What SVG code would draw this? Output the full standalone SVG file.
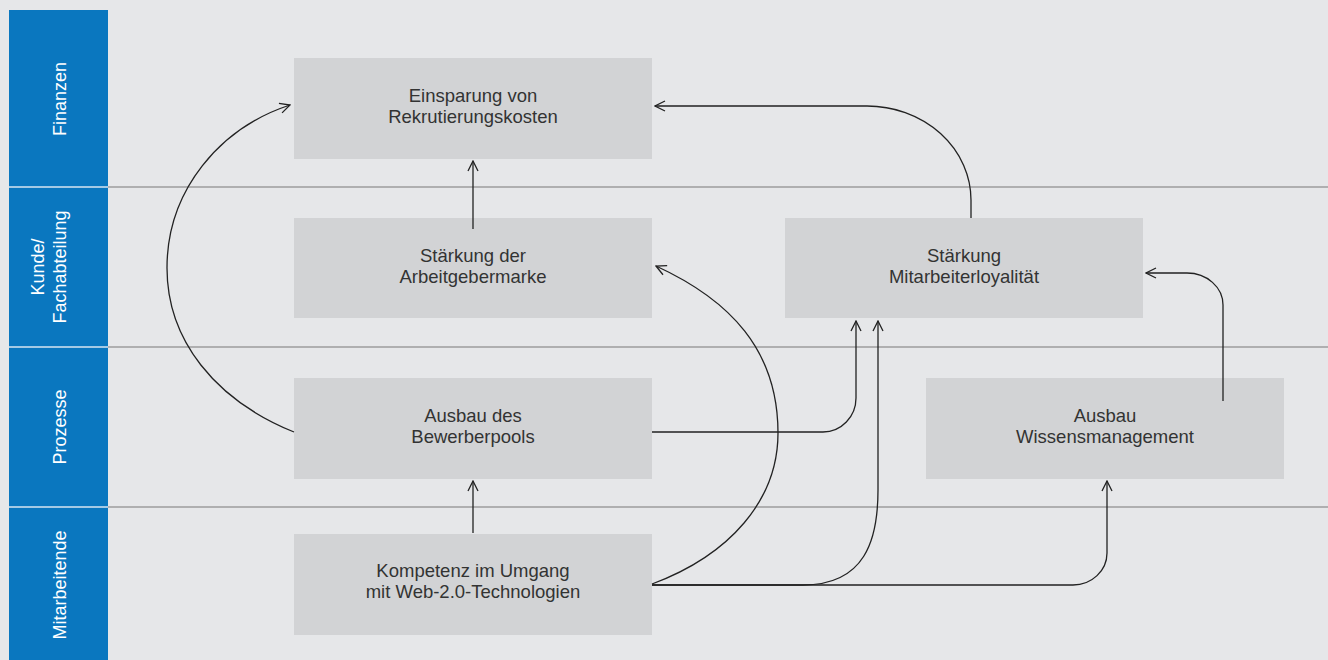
<svg xmlns="http://www.w3.org/2000/svg" width="1328" height="660" viewBox="0 0 1328 660">
<defs>
<style>
.box{fill:#d2d3d5}
.t{font-family:"Liberation Sans",Arial,sans-serif;font-size:18.5px;fill:#333;text-anchor:middle}
.lab{font-family:"Liberation Sans",Arial,sans-serif;font-size:18px;fill:#fff;text-anchor:middle}
.sep{stroke:#9c9c9c;stroke-width:1.5}
.sepb{stroke:#d8e6f2;stroke-width:1.5}
.c{fill:none;stroke:#222;stroke-width:1.3}
</style>
<marker id="ah" viewBox="0 0 12 12" refX="11" refY="6" markerWidth="12" markerHeight="12" markerUnits="userSpaceOnUse" orient="auto">
<path d="M1,1 L11,6 L1,11" fill="none" stroke="#222" stroke-width="1.3"/>
</marker>
</defs>
<rect x="0" y="0" width="1328" height="660" fill="#e6e7e9"/>
<g id="bands">
<rect x="9" y="10" width="99" height="650" fill="#0a77bf"/>
<line class="sepb" x1="9" y1="187" x2="108" y2="187"/>
<line class="sepb" x1="9" y1="347" x2="108" y2="347"/>
<line class="sepb" x1="9" y1="507" x2="108" y2="507"/>
<line class="sep" x1="108" y1="187" x2="1328" y2="187"/>
<line class="sep" x1="108" y1="347" x2="1328" y2="347"/>
<line class="sep" x1="108" y1="507" x2="1328" y2="507"/>
<text class="lab" transform="translate(66,99) rotate(-90)">Finanzen</text>
<text class="lab" transform="translate(44,267) rotate(-90)">Kunde/<tspan x="0" dy="22">Fachabteilung</tspan></text>
<text class="lab" transform="translate(66,427) rotate(-90)">Prozesse</text>
<text class="lab" transform="translate(66,585) rotate(-90)">Mitarbeitende</text>
</g>
<g id="n-einsparung">
<rect class="box" x="294" y="58" width="358" height="101"/>
<text class="t" x="473" y="102">Einsparung von<tspan x="473" dy="21">Rekrutierungskosten</tspan></text>
</g>
<g id="n-arbeitgebermarke">
<rect class="box" x="294" y="218" width="358" height="100"/>
<text class="t" x="473" y="262">Stärkung der<tspan x="473" dy="21">Arbeitgebermarke</tspan></text>
</g>
<g id="n-loyalitaet">
<rect class="box" x="785" y="218" width="358" height="100"/>
<text class="t" x="964" y="262">Stärkung<tspan x="964" dy="21">Mitarbeiterloyalität</tspan></text>
</g>
<g id="n-bewerberpools">
<rect class="box" x="294" y="378" width="358" height="101"/>
<text class="t" x="473" y="422">Ausbau des<tspan x="473" dy="21">Bewerberpools</tspan></text>
</g>
<g id="n-wissen">
<rect class="box" x="926" y="378" width="358" height="101"/>
<text class="t" x="1105" y="422">Ausbau<tspan x="1105" dy="21">Wissensmanagement</tspan></text>
</g>
<g id="n-kompetenz">
<rect class="box" x="294" y="534" width="358" height="101"/>
<text class="t" x="473" y="577">Kompetenz im Umgang<tspan x="473" dy="21">mit Web-2.0-Technologien</tspan></text>
</g>
<g id="connectors">
<path class="c" marker-end="url(#ah)" d="M473,229 L473,161"/>
<path class="c" marker-end="url(#ah)" d="M473,533 L473,481"/>
<path class="c" marker-end="url(#ah)" d="M294,432 C215,400 167,340 167,268 C167,190 220,128 290,105"/>
<path class="c" marker-end="url(#ah)" d="M652,584 C730,555 778,500 778,433 C778,350 730,300 656,266"/>
<path class="c" marker-end="url(#ah)" d="M652,585 L803,585 C865,585 878,540 878,490 L878,321"/>
<path class="c" marker-end="url(#ah)" d="M652,585 L1073,585 A34,32 0 0 0 1107,553 L1107,481"/>
<path class="c" marker-end="url(#ah)" d="M652,432 L823,432 A33,34 0 0 0 856,398 L856,321"/>
<path class="c" marker-end="url(#ah)" d="M1223,401 L1223,305 A36,32 0 0 0 1187,273 L1146,273"/>
<path class="c" marker-end="url(#ah)" d="M971,218 L971,200 A104,94 0 0 0 867,106 L655,106"/>
</g>
</svg>
